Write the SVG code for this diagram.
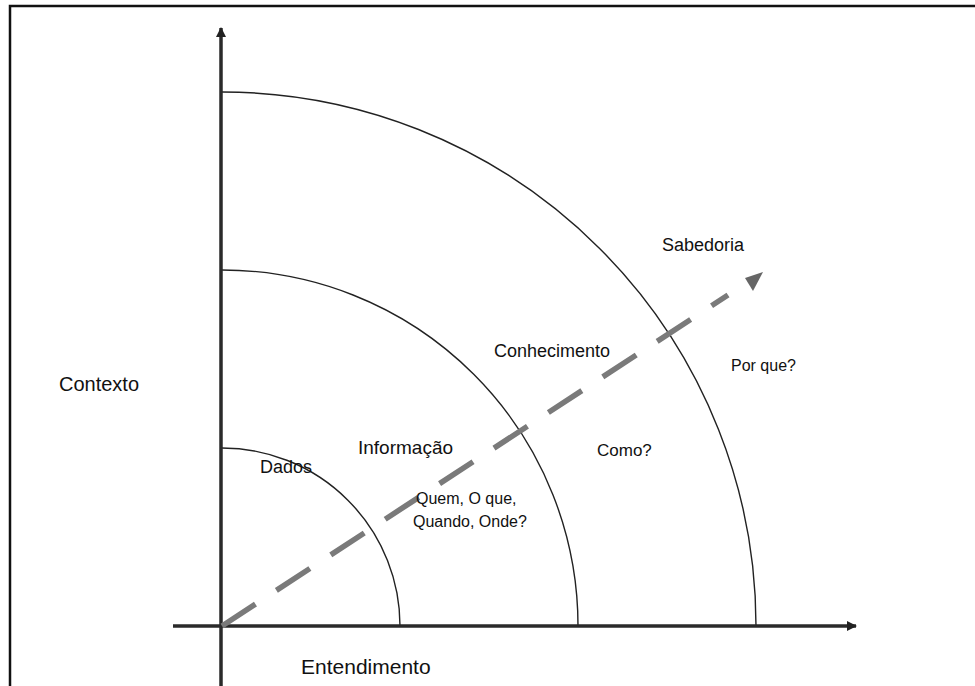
<svg xmlns="http://www.w3.org/2000/svg" width="975" height="686" viewBox="0 0 975 686">
<style>
.t{font-family:"Liberation Sans",Arial,sans-serif;font-size:18px;fill:#111}
.s{font-size:16px}
.arc{fill:none;stroke:#222;stroke-width:1.4}
.axis{stroke:#2a2a2a;stroke-width:3.5}
</style>
<defs>
<marker id="ah" markerWidth="12" markerHeight="12" refX="9" refY="6" orient="auto" markerUnits="userSpaceOnUse">
<path d="M0,1 L10,6 L0,11 Z" fill="#222"/>
</marker>
</defs>
<rect width="975" height="686" fill="#fff"/>
<path d="M10,686 V6 H975" fill="none" stroke="#111" stroke-width="2.5"/>
<g id="arcs">
<path class="arc" d="M222,448 A178,178 0 0 1 400,626"/>
<path class="arc" d="M222,270 A356,356 0 0 1 578,626"/>
<path class="arc" d="M222,92 A534,534 0 0 1 756,626"/>
</g>
<g id="connectors">
<line class="axis" x1="221" y1="686" x2="221" y2="28" marker-end="url(#ah)"/>
<line class="axis" x1="173" y1="626" x2="856" y2="626" marker-end="url(#ah)"/>
<line x1="222" y1="626" x2="728" y2="295" stroke="#7a7a7a" stroke-width="5.5" stroke-dasharray="40,25"/>
<polygon points="763,272 745,278 753,291" fill="#666"/>
</g>
<g id="contexto"><text class="t" x="59" y="391" style="font-size:20px">Contexto</text></g>
<g id="entendimento"><text class="t" x="301" y="674" style="font-size:21px">Entendimento</text></g>
<g id="dados"><text class="t" x="260" y="473">Dados</text></g>
<g id="informacao"><text class="t" x="358" y="454" style="font-size:19px">Informação</text></g>
<g id="quem"><text class="t s" x="416" y="504">Quem, O que,</text><text class="t s" x="413" y="527">Quando, Onde?</text></g>
<g id="conhecimento"><text class="t" x="494" y="357">Conhecimento</text></g>
<g id="como"><text class="t" x="597" y="456" style="font-size:17px">Como?</text></g>
<g id="sabedoria"><text class="t" x="662" y="251">Sabedoria</text></g>
<g id="porque"><text class="t" x="731" y="371" style="font-size:16px">Por que?</text></g>
</svg>
